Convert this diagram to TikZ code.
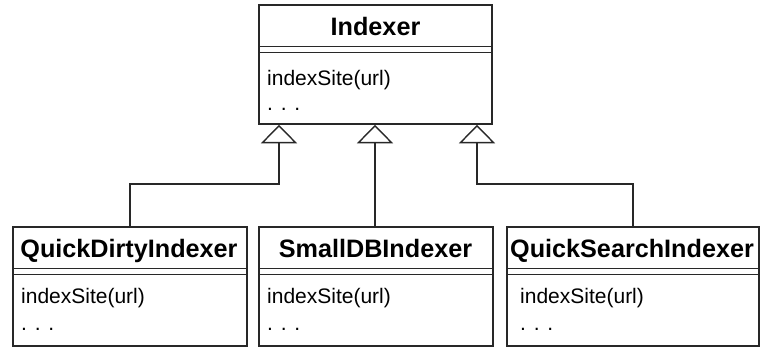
\documentclass[tikz,border=0pt]{standalone}
\usepackage{fontspec}
\setmainfont{Liberation Sans}
\usetikzlibrary{arrows.meta}
\definecolor{ink}{RGB}{40,40,40}
\tikzset{
  classbox/.style={draw=ink, line width=1.5pt, rectangle, inner sep=0pt,
    minimum height=119pt},
  sepline/.style={draw=ink, line width=1.4pt},
  titletext/.style={inner sep=0pt, anchor=base,
    font=\fontsize{25.2}{30}\selectfont\bfseries},
  methodtext/.style={inner sep=0pt, anchor=base west,
    font=\fontsize{21}{25}\selectfont},
  inherit/.style={draw=ink, line width=1.4pt,
    -{Triangle[open, length=18.5pt, width=36pt, line width=1.4pt]}},
}
\newcommand{\umlseparators}[1]{%
  \draw[sepline] ([yshift=-42pt]#1.north west) -- ([yshift=-42pt]#1.north east);
  \draw[sepline] ([yshift=-48pt]#1.north west) -- ([yshift=-48pt]#1.north east);
}
\begin{document}
\begin{tikzpicture}[x=1pt, y=-1pt]
  \useasboundingbox (0,0) rectangle (767,348);

  % superclass
  \node[classbox, minimum width=233pt] (idx) at (375.5,64.5) {};
  \umlseparators{idx}
  \node[titletext] (idxT) at (375.5,35) {Indexer};
  \node[methodtext] (idxM1) at (267,85) {indexSite(url)};
  \node[methodtext] (idxM2) at (267,110) {. . .};

  % subclasses
  \node[classbox, minimum width=234pt] (qd) at (130,286.5) {};
  \umlseparators{qd}
  \node[titletext] (qdT) at (129,257.5) {QuickDirtyIndexer};
  \node[methodtext] (qdM1) at (21,303) {indexSite(url)};
  \node[methodtext] (qdM2) at (21,330) {. . .};

  \node[classbox, minimum width=234pt] (sd) at (376,286.5) {};
  \umlseparators{sd}
  \node[titletext] (sdT) at (375.5,257.5) {SmallDBIndexer};
  \node[methodtext] (sdM1) at (267,303) {indexSite(url)};
  \node[methodtext] (sdM2) at (267,330) {. . .};

  \node[classbox, minimum width=252pt] (qs) at (633,286.5) {};
  \umlseparators{qs}
  \node[titletext] (qsT) at (632,257.5) {QuickSearchIndexer};
  \node[methodtext] (qsM1) at (520,303) {indexSite(url)};
  \node[methodtext] (qsM2) at (520,330) {. . .};

  % inheritance arrows: apexes on the superclass's lower edge
  \coordinate (a1) at ([xshift=-96.5pt]idx.south);
  \coordinate (a2) at ([xshift=-0.5pt]idx.south);
  \coordinate (a3) at ([xshift=101.5pt]idx.south);
  \coordinate (j1) at (279,184);
  \coordinate (j3) at (477,184);
  \draw[inherit] (qd.north) |- (j1) -- (a1);
  \draw[inherit] (a2 |- sd.north) -- (a2);
  \draw[inherit] (qs.north) |- (j3) -- (a3);
\end{tikzpicture}
\end{document}
